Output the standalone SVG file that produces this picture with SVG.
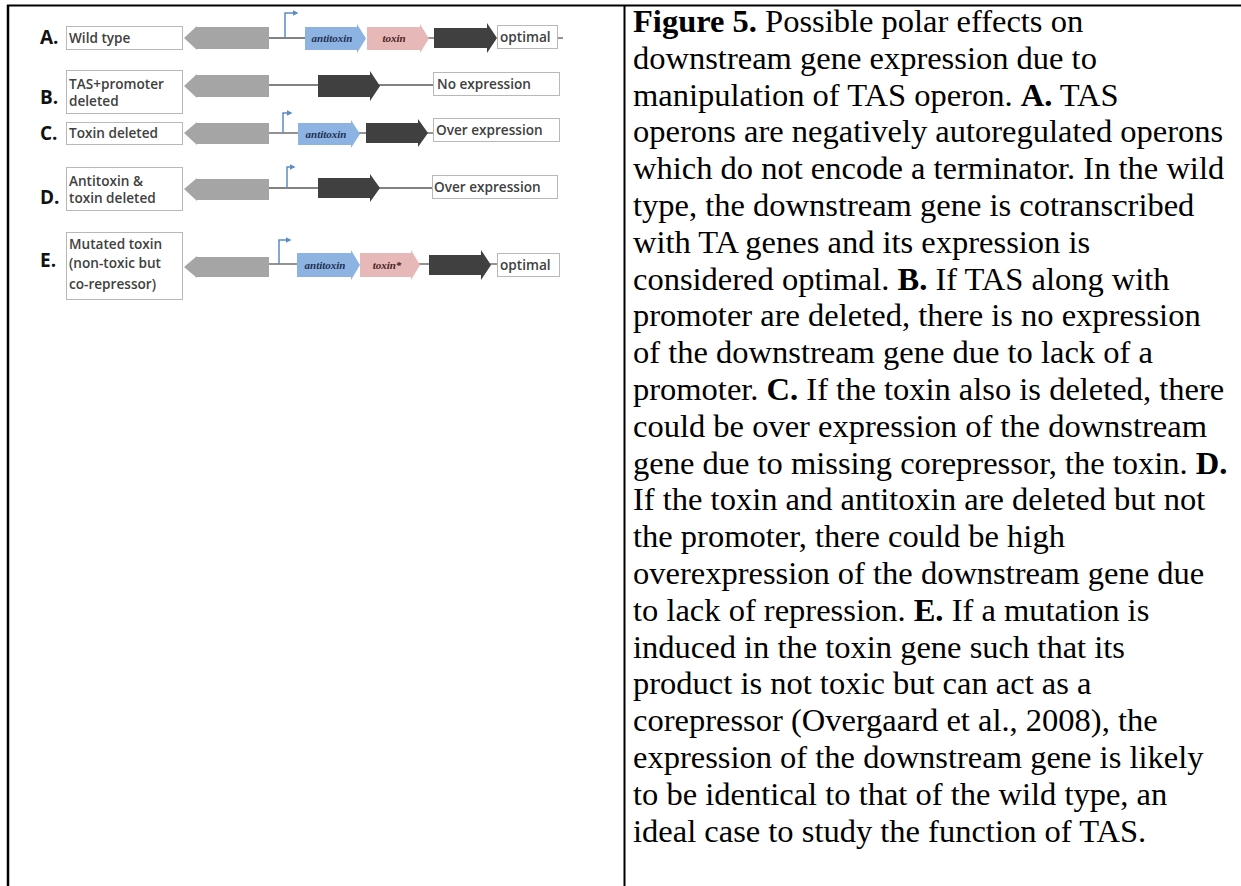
<svg xmlns="http://www.w3.org/2000/svg" width="1241" height="886" viewBox="0 0 1241 886">
<style>
.frame{stroke:#000;fill:none}
.lbl{font-family:"Open Sans","Liberation Sans",sans-serif;font-weight:700;font-size:19px;fill:#111}
.box{fill:#fff;stroke:#b8b8b8;stroke-width:1}
.bt{font-family:"Open Sans","Liberation Sans",sans-serif;font-weight:600;font-size:13.6px;fill:#404040}
.gray{fill:#a5a5a5}
.dark{fill:#404040}
.blue{fill:#8db3e2}
.pink{fill:#e6b9b8}
.gl{font-family:"Liberation Serif","Times New Roman",serif;font-weight:700;font-style:italic;font-size:11px;text-anchor:middle}
.wire{stroke:#595959;stroke-width:1.3;fill:none}
.prom{stroke:#5b8cc4;stroke-width:1.5;fill:none}
.cap{font-family:"Liberation Serif","Times New Roman",serif;font-size:32.5px;fill:#000}
</style>
<defs>
<marker id="pa" viewBox="0 0 8 8" refX="6" refY="4" markerWidth="6" markerHeight="6" orient="auto" markerUnits="userSpaceOnUse">
<path d="M0,0 L8,4 L0,8 Z" fill="#5b8cc4"/>
</marker>
</defs>
<rect width="1241" height="886" fill="#fff"/>
<g id="frame">
<line class="frame" x1="7" y1="5.5" x2="1241" y2="5.5" stroke-width="2"/>
<line class="frame" x1="8" y1="5" x2="8" y2="886" stroke-width="2.5"/>
<line class="frame" x1="624.5" y1="5" x2="624.5" y2="886" stroke-width="2"/>
</g>
<g id="connectors">
<line class="wire" x1="269" y1="38" x2="305" y2="38"/>
<line class="wire" x1="427" y1="38" x2="434" y2="38"/>
<line class="wire" x1="557" y1="38" x2="563" y2="38"/>
<line class="wire" x1="269" y1="85" x2="318" y2="85"/>
<line class="wire" x1="378" y1="85" x2="433" y2="85"/>
<line class="wire" x1="269" y1="133" x2="298" y2="133"/>
<line class="wire" x1="358" y1="133" x2="366" y2="133"/>
<line class="wire" x1="426" y1="133" x2="433" y2="133"/>
<line class="wire" x1="269" y1="188" x2="318" y2="188"/>
<line class="wire" x1="378" y1="188" x2="432" y2="188"/>
<line class="wire" x1="269" y1="264" x2="297" y2="264"/>
<line class="wire" x1="418" y1="264" x2="429" y2="264"/>
<line class="wire" x1="490" y1="264" x2="497" y2="264"/>
<path class="prom" d="M285,38 V13 H297" marker-end="url(#pa)"/>
<path class="prom" d="M283,133 V113 H291" marker-end="url(#pa)"/>
<path class="prom" d="M287,188 V167 H294" marker-end="url(#pa)"/>
<path class="prom" d="M279,264 V240 H290" marker-end="url(#pa)"/>
</g>
<g id="rowA">
<text class="lbl" x="40" y="44">A.</text>
<rect class="box" x="66.5" y="26.5" width="116" height="23"/>
<text class="bt" x="69" y="43">Wild type</text>
<path class="gray" d="M184,38 L197,26 L197,27 L269,27 L269,49 L197,49 L197,50 Z"/>
<path class="blue" d="M305,27 L357,27 L357,24 L366,38.5 L357,53 L357,50 L305,50 Z"/>
<text class="gl" x="332" y="42" fill="#1f2f52">antitoxin</text>
<path class="pink" d="M367,27 L420,27 L420,24 L429,38.5 L420,53 L420,50 L367,50 Z"/>
<text class="gl" x="394" y="42" fill="#4a1f1f">toxin</text>
<path class="dark" d="M434,28 L487,28 L487,23 L497,38 L487,53 L487,48 L434,48 Z"/>
<rect class="box" x="497.5" y="25.5" width="60" height="23"/>
<text class="bt" x="500" y="42">optimal</text>
</g>
<g id="rowB">
<text class="lbl" x="40" y="104">B.</text>
<rect class="box" x="66.5" y="70.5" width="116" height="43"/>
<text class="bt" x="69" y="89">TAS+promoter</text>
<text class="bt" x="69" y="106">deleted</text>
<path class="gray" d="M184,86 L197,74 L197,75 L269,75 L269,97 L197,97 L197,98 Z"/>
<path class="dark" d="M318,75 L370,75 L370,71 L380,86 L370,101 L370,97 L318,97 Z"/>
<rect class="box" x="433.5" y="72.5" width="126" height="23"/>
<text class="bt" x="437" y="89">No expression</text>
</g>
<g id="rowC">
<text class="lbl" x="40" y="140">C.</text>
<rect class="box" x="66.5" y="122.5" width="116" height="22"/>
<text class="bt" x="69" y="138">Toxin deleted</text>
<path class="gray" d="M184,133 L197,122 L197,123 L269,123 L269,144 L197,144 L197,145 Z"/>
<path class="blue" d="M298,123 L351,123 L351,120 L360,134 L351,148 L351,145 L298,145 Z"/>
<text class="gl" x="326" y="138" fill="#1f2f52">antitoxin</text>
<path class="dark" d="M366,123 L418,123 L418,119 L428,133 L418,147 L418,143 L366,143 Z"/>
<rect class="box" x="433.5" y="118.5" width="126" height="23"/>
<text class="bt" x="436" y="135">Over expression</text>
</g>
<g id="rowD">
<text class="lbl" x="40" y="204">D.</text>
<rect class="box" x="66.5" y="167.5" width="116" height="43"/>
<text class="bt" x="69" y="186">Antitoxin &amp;</text>
<text class="bt" x="69" y="203">toxin deleted</text>
<path class="gray" d="M184,189 L197,178 L197,179 L269,179 L269,200 L197,200 L197,201 Z"/>
<path class="dark" d="M318,178 L370,178 L370,174 L380,188 L370,202 L370,198 L318,198 Z"/>
<rect class="box" x="432.5" y="175.5" width="125" height="23"/>
<text class="bt" x="434" y="192">Over expression</text>
</g>
<g id="rowE">
<text class="lbl" x="40" y="267">E.</text>
<rect class="box" x="66.5" y="232.5" width="116" height="67"/>
<text class="bt" x="69" y="249">Mutated toxin</text>
<text class="bt" x="69" y="268">(non-toxic but</text>
<text class="bt" x="69" y="289">co-repressor)</text>
<path class="gray" d="M184,267 L197,256 L197,257 L269,257 L269,277 L197,277 L197,278 Z"/>
<path class="blue" d="M297,253 L351,253 L351,250 L360,265 L351,280 L351,277 L297,277 Z"/>
<text class="gl" x="325" y="269" fill="#1f2f52">antitoxin</text>
<path class="pink" d="M360,253 L411,253 L411,250 L420,265 L411,280 L411,277 L360,277 Z"/>
<text class="gl" x="387" y="269" fill="#4a1f1f">toxin*</text>
<path class="dark" d="M429,255 L481,255 L481,250 L491,265 L481,280 L481,275 L429,275 Z"/>
<rect class="box" x="497.5" y="253.5" width="62" height="23"/>
<text class="bt" x="500" y="270">optimal</text>
</g>
<g id="caption">
<text class="cap" x="633" y="32"><tspan font-weight="700">Figure 5.</tspan> Possible polar effects on</text>
<text class="cap" x="633" y="68.8">downstream gene expression due to</text>
<text class="cap" x="633" y="105.6">manipulation of TAS operon. <tspan font-weight="700">A.</tspan> TAS</text>
<text class="cap" x="633" y="142.4">operons are negatively autoregulated operons</text>
<text class="cap" x="633" y="179.2">which do not encode a terminator. In the wild</text>
<text class="cap" x="633" y="216">type, the downstream gene is cotranscribed</text>
<text class="cap" x="633" y="252.8">with TA genes and its expression is</text>
<text class="cap" x="633" y="289.6">considered optimal. <tspan font-weight="700">B.</tspan> If TAS along with</text>
<text class="cap" x="633" y="326.4">promoter are deleted, there is no expression</text>
<text class="cap" x="633" y="363.2">of the downstream gene due to lack of a</text>
<text class="cap" x="633" y="400">promoter. <tspan font-weight="700">C.</tspan> If the toxin also is deleted, there</text>
<text class="cap" x="633" y="436.8">could be over expression of the downstream</text>
<text class="cap" x="633" y="473.6">gene due to missing corepressor, the toxin. <tspan font-weight="700">D.</tspan></text>
<text class="cap" x="633" y="510.4">If the toxin and antitoxin are deleted but not</text>
<text class="cap" x="633" y="547.2">the promoter, there could be high</text>
<text class="cap" x="633" y="584">overexpression of the downstream gene due</text>
<text class="cap" x="633" y="620.8">to lack of repression. <tspan font-weight="700">E.</tspan> If a mutation is</text>
<text class="cap" x="633" y="657.6">induced in the toxin gene such that its</text>
<text class="cap" x="633" y="694.4">product is not toxic but can act as a</text>
<text class="cap" x="633" y="731.2">corepressor (Overgaard et al., 2008), the</text>
<text class="cap" x="633" y="768">expression of the downstream gene is likely</text>
<text class="cap" x="633" y="804.8">to be identical to that of the wild type, an</text>
<text class="cap" x="633" y="841.6">ideal case to study the function of TAS.</text>
</g>
</svg>
